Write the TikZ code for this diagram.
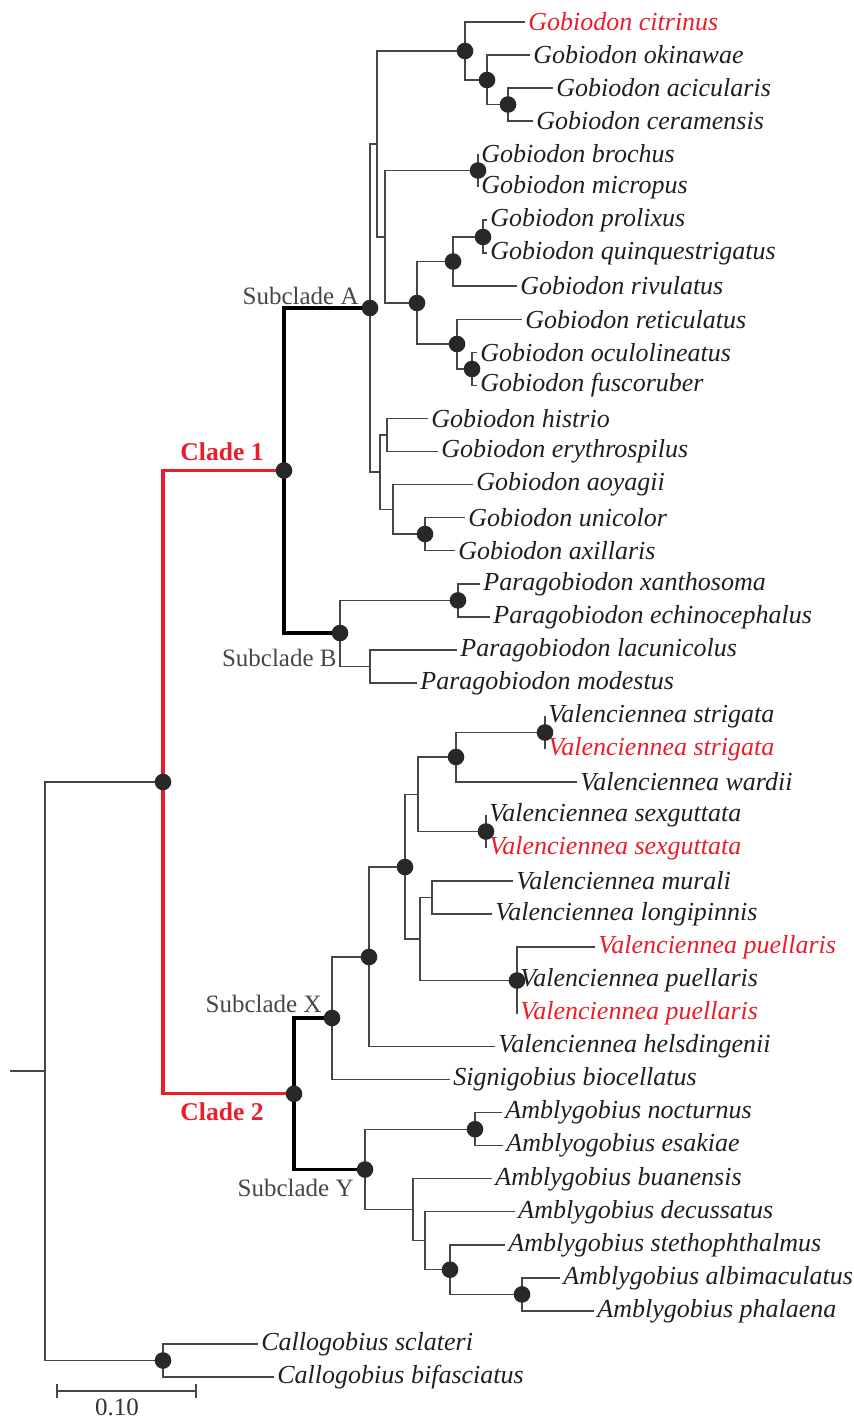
\documentclass[tikz,border=0pt]{standalone}
\usepackage{fontspec}
\setmainfont{Liberation Serif}
\usetikzlibrary{calc}

\begin{document}
\begin{tikzpicture}[x=0.5pt, y=-0.5pt,
  branch/.style={draw=treegray, line width=0.65pt},
  thickbranch/.style={draw=black, line width=1.6pt},
  redbranch/.style={draw=cladered, line width=1.6pt},
  leaf/.style={anchor=west, inner sep=1.5pt, text=black!88,
    font=\fontsize{13}{15}\selectfont\itshape},
  redleaf/.style={leaf, text=cladered},
  sublabel/.style={anchor=east, inner sep=0pt, text=black!72,
    font=\fontsize{12.5}{14}\selectfont},
  cladelabel/.style={inner sep=0pt, text=cladered,
    font=\fontsize{12.8}{14}\selectfont\bfseries},
  dot/.style={circle, fill=dotgray, inner sep=0pt, minimum size=8.3pt}]

% Colors
\definecolor{cladered}{RGB}{232,30,42}
\definecolor{treegray}{RGB}{70,70,70}
\definecolor{dotgray}{RGB}{40,40,40}

\useasboundingbox (0,0) rectangle (853,1418);

% ---------------- Clade 1, subclade A ----------------
\node[redleaf] (t0) at (525,22) {Gobiodon citrinus};
\node[leaf] (t1) at (530,55) {Gobiodon okinawae};
\node[leaf] (t2) at (553,88) {Gobiodon acicularis};
\node[leaf] (t3) at (533,121) {Gobiodon ceramensis};
\node[leaf] (t4) at (478,154) {Gobiodon brochus};
\node[leaf] (t5) at (478,187) {Gobiodon micropus};
\node[leaf] (t6) at (487,220) {Gobiodon prolixus};
\node[leaf] (t7) at (487,253) {Gobiodon quinquestrigatus};
\node[leaf] (t8) at (517,286) {Gobiodon rivulatus};
\node[leaf] (t9) at (522,319.5) {Gobiodon reticulatus};
\node[leaf] (t10) at (477,352.5) {Gobiodon oculolineatus};
\node[leaf] (t11) at (477,385.5) {Gobiodon fuscoruber};
\node[leaf] (t12) at (428,418.6) {Gobiodon histrio};
\node[leaf] (t13) at (438,451.7) {Gobiodon erythrospilus};
\node[leaf] (t14) at (473,484.7) {Gobiodon aoyagii};
\node[leaf] (t15) at (465,517.8) {Gobiodon unicolor};
\node[leaf] (t16) at (455,550.8) {Gobiodon axillaris};

\coordinate (gA3) at (508,104.5);
\coordinate (gA2) at (487,80);
\coordinate (gA1) at (465,51);
\coordinate (gB) at (478,170.5);
\coordinate (gC) at (483,237);
\coordinate (gD) at (453,261.5);
\coordinate (gE) at (472,369);
\coordinate (gF) at (457,344);
\coordinate (gG) at (417,303);
\coordinate (gH) at (385,237);
\coordinate (gI) at (377,144);
\coordinate (gJ) at (387,435);
\coordinate (gK) at (425,534);
\coordinate (gL) at (393,509.5);
\coordinate (gM) at (380,472);
\coordinate (subA) at (370,308);

\draw[branch] (gA3) |- (t2.west) (gA3) |- (t3.west);
\draw[branch] (gA2) |- (t1.west) (gA2) |- (gA3);
\draw[branch] (gA1) |- (t0.west) (gA1) |- (gA2);
\draw[branch] (gB) |- (t4.west) (gB) |- (t5.west);
\draw[branch] (gC) |- (t6.west) (gC) |- (t7.west);
\draw[branch] (gD) |- (gC) (gD) |- (t8.west);
\draw[branch] (gE) |- (t10.west) (gE) |- (t11.west);
\draw[branch] (gF) |- (t9.west) (gF) |- (gE);
\draw[branch] (gG) |- (gD) (gG) |- (gF);
\draw[branch] (gH) |- (gB) (gH) |- (gG);
\draw[branch] (gI) |- (gA1) (gI) |- (gH);
\draw[branch] (gJ) |- (t12.west) (gJ) |- (t13.west);
\draw[branch] (gK) |- (t15.west) (gK) |- (t16.west);
\draw[branch] (gL) |- (t14.west) (gL) |- (gK);
\draw[branch] (gM) |- (gJ) (gM) |- (gL);
\draw[branch] (subA) |- (gI) (subA) |- (gM);

% ---------------- Clade 1, subclade B ----------------
\node[leaf] (t17) at (480,583.9) {Paragobiodon xanthosoma};
\node[leaf] (t18) at (490,616.9) {Paragobiodon echinocephalus};
\node[leaf] (t19) at (457,650) {Paragobiodon lacunicolus};
\node[leaf] (t20) at (417,683) {Paragobiodon modestus};

\coordinate (gN) at (458,600.4);
\coordinate (gO) at (370,666.5);
\coordinate (subB) at (340,633);

\draw[branch] (gN) |- (t17.west) (gN) |- (t18.west);
\draw[branch] (gO) |- (t19.west) (gO) |- (t20.west);
\draw[branch] (subB) |- (gN) (subB) |- (gO);

% ---------------- Clade 2, subclade X ----------------
\node[leaf] (t21) at (545,716) {Valenciennea strigata};
\node[redleaf] (t22) at (545,749) {Valenciennea strigata};
\node[leaf] (t23) at (577,782) {Valenciennea wardii};
\node[leaf] (t24) at (486,815) {Valenciennea sexguttata};
\node[redleaf] (t25) at (486,848) {Valenciennea sexguttata};
\node[leaf] (t26) at (513,881) {Valenciennea murali};
\node[leaf] (t27) at (492,914) {Valenciennea longipinnis};
\node[redleaf] (t28) at (595,947) {Valenciennea puellaris};
\node[leaf] (t29) at (517,980.5) {Valenciennea puellaris};
\node[redleaf] (t30) at (517,1013.5) {Valenciennea puellaris};
\node[leaf] (t31) at (495,1046.5) {Valenciennea helsdingenii};
\node[leaf] (t32) at (450,1079.6) {Signigobius biocellatus};

\coordinate (vS) at (545,732.5);
\coordinate (vW) at (456,757);
\coordinate (vX) at (486,831.5);
\coordinate (vT) at (418,794.5);
\coordinate (vM) at (432,897.5);
\coordinate (vP) at (517,980.5);
\coordinate (vQ) at (420,939);
\coordinate (vU) at (405,867);
\coordinate (vV) at (369,957);
\coordinate (subX) at (332,1018);

\draw[branch] (vS) |- (t21.west) (vS) |- (t22.west);
\draw[branch] (vW) |- (vS) (vW) |- (t23.west);
\draw[branch] (vX) |- (t24.west) (vX) |- (t25.west);
\draw[branch] (vT) |- (vW) (vT) |- (vX);
\draw[branch] (vM) |- (t26.west) (vM) |- (t27.west);
\draw[branch] (vP) |- (t28.west) (vP) |- (t30.west);
\draw[branch] (vQ) |- (vM) (vQ) |- (vP);
\draw[branch] (vU) |- (vT) (vU) |- (vQ);
\draw[branch] (vV) |- (vU) (vV) |- (t31.west);
\draw[branch] (subX) |- (vV) (subX) |- (t32.west);

% ---------------- Clade 2, subclade Y ----------------
\node[leaf] (t33) at (502,1112.7) {Amblygobius nocturnus};
\node[leaf] (t34) at (503,1145.7) {Amblyogobius esakiae};
\node[leaf] (t35) at (492,1178.8) {Amblygobius buanensis};
\node[leaf] (t36) at (515,1211.8) {Amblygobius decussatus};
\node[leaf] (t37) at (505,1244.9) {Amblygobius stethophthalmus};
\node[leaf] (t38) at (560,1277.9) {Amblygobius albimaculatus};
\node[leaf] (t39) at (594,1311) {Amblygobius phalaena};

\coordinate (aN) at (475,1129.2);
\coordinate (aAP) at (522,1294.4);
\coordinate (aSt) at (450,1269.7);
\coordinate (aD) at (425,1240.7);
\coordinate (aB) at (413,1209.8);
\coordinate (subY) at (365,1169.5);

\draw[branch] (aN) |- (t33.west) (aN) |- (t34.west);
\draw[branch] (aAP) |- (t38.west) (aAP) |- (t39.west);
\draw[branch] (aSt) |- (t37.west) (aSt) |- (aAP);
\draw[branch] (aD) |- (t36.west) (aD) |- (aSt);
\draw[branch] (aB) |- (t35.west) (aB) |- (aD);
\draw[branch] (subY) |- (aN) (subY) |- (aB);

% ---------------- Outgroup and root ----------------
\node[leaf] (t40) at (258,1344) {Callogobius sclateri};
\node[leaf] (t41) at (274,1377) {Callogobius bifasciatus};

\coordinate (cal) at (163,1360.5);
\coordinate (clade1) at (284,470.5);
\coordinate (clade2) at (294,1093.8);
\coordinate (cladeRoot) at (163,782);
\coordinate (root) at (45,1071);
\coordinate (rootStub) at (10,1071);

\draw[branch] (cal) |- (t40.west) (cal) |- (t41.west);
\draw[thickbranch] (clade1) |- (subA) (clade1) |- (subB);
\draw[thickbranch] (clade2) |- (subX) (clade2) |- (subY);
\draw[redbranch] (cladeRoot) |- (clade1) (cladeRoot) |- (clade2);
\draw[branch] (root) |- (cladeRoot) (root) |- (cal);
\draw[branch] (rootStub) -- (root);

% Support dots
\foreach \n in {gA1,gA2,gA3,gB,gC,gD,gE,gF,gG,gK,subA,gN,subB,clade1,
                vS,vW,vX,vP,vU,vV,subX,aN,aSt,aAP,subY,clade2,cladeRoot,cal}
  \node[dot] (dot-\n) at (\n) {};

% Clade labels
\node[sublabel] (labA) at (359,296) {Subclade A};
\node[sublabel] (labB) at (337,658) {Subclade B};
\node[sublabel] (labX) at (322,1004) {Subclade X};
\node[sublabel] (labY) at (354,1188) {Subclade Y};
\node[cladelabel] (lab1) at (222,452) {Clade 1};
\node[cladelabel] (lab2) at (222,1112) {Clade 2};

% Scale bar
\coordinate (sbL) at (57,1391);
\coordinate (sbR) at (196,1391);
\draw[branch, line width=0.8pt] (sbL) -- (sbR);
\draw[branch, line width=0.8pt] ($(sbL)+(0,-7)$) -- ($(sbL)+(0,7)$);
\draw[branch, line width=0.8pt] ($(sbR)+(0,-7)$) -- ($(sbR)+(0,7)$);
\node[text=black!80, font=\fontsize{12.5}{14}\selectfont] (sbLab) at (117,1407) {0.10};
\end{tikzpicture}
\end{document}
